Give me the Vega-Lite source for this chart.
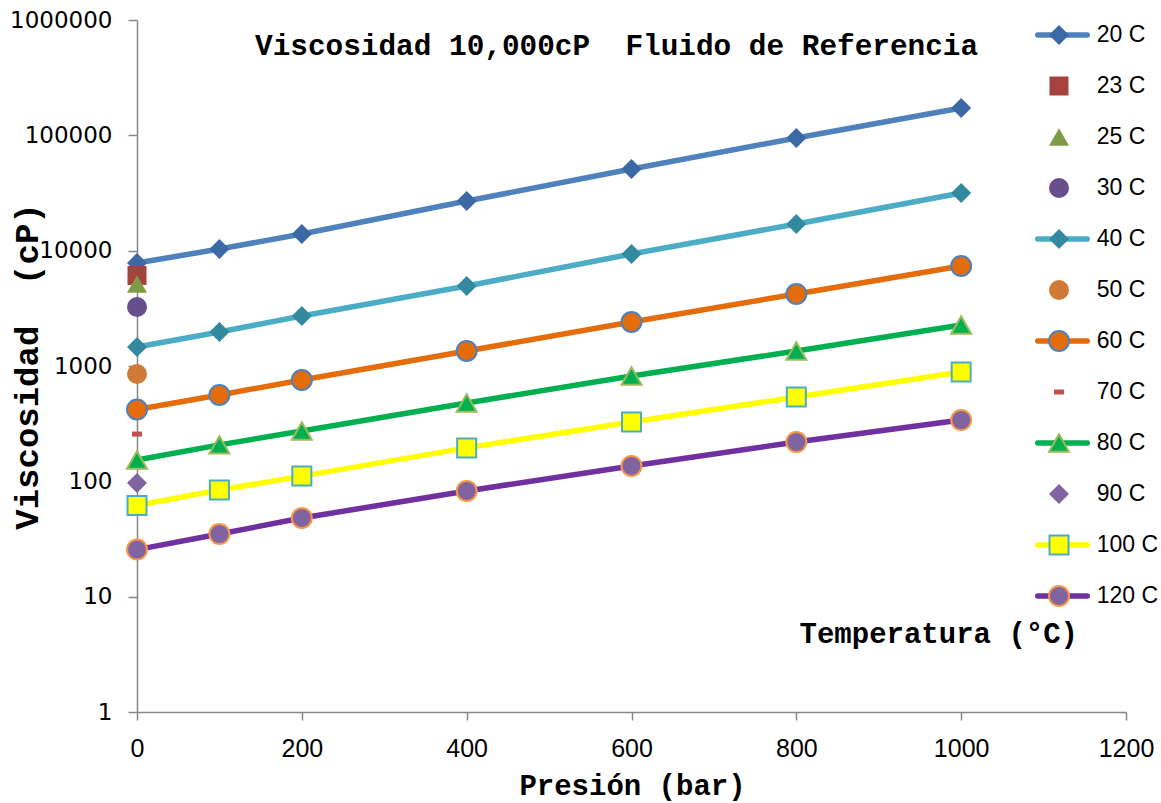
{
  "$schema": "https://vega.github.io/schema/vega-lite/v6.json",
  "width": 989,
  "height": 692,
  "autosize": {"type": "none"},
  "padding": {"left": 137, "top": 20, "right": 35, "bottom": 91},
  "background": "white",
  "title": {
    "text": "Viscosidad 10,000cP\u00a0 Fluido de Referencia",
    "anchor": "start", "frame": "group", "orient": "top", "offset": -75,
    "dx": 118, "baseline": "alphabetic",
    "font": "Liberation Mono", "fontSize": 29.4, "fontWeight": "bold", "color": "black"
  },
  "config": {"view": {"stroke": null}},
  "data": {
    "values": [
      {"t": "20 C", "p": 0, "v": 7820}, {"t": "20 C", "p": 100, "v": 10340}, {"t": "20 C", "p": 200, "v": 13950}, {"t": "20 C", "p": 400, "v": 26960}, {"t": "20 C", "p": 600, "v": 51080}, {"t": "20 C", "p": 800, "v": 94850}, {"t": "20 C", "p": 1000, "v": 172700},
      {"t": "23 C", "p": 0, "v": 6100},
      {"t": "25 C", "p": 0, "v": 5140},
      {"t": "30 C", "p": 0, "v": 3250},
      {"t": "40 C", "p": 0, "v": 1460}, {"t": "40 C", "p": 100, "v": 1972}, {"t": "40 C", "p": 200, "v": 2714}, {"t": "40 C", "p": 400, "v": 4940}, {"t": "40 C", "p": 600, "v": 9360}, {"t": "40 C", "p": 800, "v": 17030}, {"t": "40 C", "p": 1000, "v": 31630},
      {"t": "50 C", "p": 0, "v": 852},
      {"t": "60 C", "p": 0, "v": 420}, {"t": "60 C", "p": 100, "v": 561}, {"t": "60 C", "p": 200, "v": 756}, {"t": "60 C", "p": 400, "v": 1350}, {"t": "60 C", "p": 600, "v": 2407}, {"t": "60 C", "p": 800, "v": 4210}, {"t": "60 C", "p": 1000, "v": 7365},
      {"t": "70 C", "p": 0, "v": 257},
      {"t": "80 C", "p": 0, "v": 153}, {"t": "80 C", "p": 100, "v": 207}, {"t": "80 C", "p": 200, "v": 273}, {"t": "80 C", "p": 400, "v": 478}, {"t": "80 C", "p": 600, "v": 819}, {"t": "80 C", "p": 800, "v": 1350}, {"t": "80 C", "p": 1000, "v": 2268},
      {"t": "90 C", "p": 0, "v": 96.7},
      {"t": "100 C", "p": 0, "v": 61.7}, {"t": "100 C", "p": 100, "v": 84.1}, {"t": "100 C", "p": 200, "v": 111}, {"t": "100 C", "p": 400, "v": 195}, {"t": "100 C", "p": 600, "v": 327}, {"t": "100 C", "p": 800, "v": 539}, {"t": "100 C", "p": 1000, "v": 887},
      {"t": "120 C", "p": 0, "v": 25.6}, {"t": "120 C", "p": 100, "v": 34.9}, {"t": "120 C", "p": 200, "v": 48.1}, {"t": "120 C", "p": 400, "v": 82.5}, {"t": "120 C", "p": 600, "v": 136}, {"t": "120 C", "p": 800, "v": 219}, {"t": "120 C", "p": 1000, "v": 340}
    ]
  },
  "encoding": {
    "x": {
      "field": "p", "type": "quantitative",
      "scale": {"domain": [0, 1200], "nice": false, "zero": false},
      "axis": {
        "values": [0, 200, 400, 600, 800, 1000, 1200], "format": "d", "grid": false,
        "domainColor": "#868686", "tickColor": "#868686", "domainWidth": 1.5, "tickWidth": 1.5, "tickSize": 8,
        "labelFont": "Liberation Sans", "labelFontSize": 25, "labelColor": "black", "labelPadding": 16,
        "labelFlush": false, "labelOverlap": false,
        "title": "Presión (bar)", "titleFont": "Liberation Mono", "titleFontSize": 29, "titleFontWeight": "bold", "titleColor": "black",
        "titleX": 495, "titleY": 82, "titleBaseline": "alphabetic", "titleAlign": "center"
      }
    },
    "y": {
      "field": "v", "type": "quantitative",
      "scale": {"type": "log", "domain": [1, 1000000], "nice": false},
      "axis": {
        "values": [1, 10, 100, 1000, 10000, 100000, 1000000], "format": "d", "grid": false,
        "domainColor": "#868686", "tickColor": "#868686", "domainWidth": 1.5, "tickWidth": 1.5, "tickSize": 9,
        "labelFont": "DejaVu Sans", "labelFontSize": 23, "labelColor": "black", "labelPadding": 16,
        "labelFlush": false, "labelOverlap": false,
        "title": "Viscosidad\u00a0 (cP)", "titleFont": "Liberation Mono", "titleFontSize": 34, "titleFontWeight": "bold", "titleColor": "black",
        "titleX": -100, "titleY": 346, "titleAngle": 270, "titleBaseline": "alphabetic", "titleAlign": "center"
      }
    }
  },
  "layer": [
    {
      "transform": [{"filter": {"field": "t", "oneOf": ["20 C", "40 C", "60 C", "80 C", "100 C", "120 C"]}}],
      "mark": {"type": "line", "strokeWidth": 5.5, "strokeCap": "round", "strokeJoin": "round"},
      "encoding": {
        "stroke": {
          "field": "t", "type": "nominal",
          "scale": {
            "domain": ["20 C", "23 C", "25 C", "30 C", "40 C", "50 C", "60 C", "70 C", "80 C", "90 C", "100 C", "120 C"],
            "range": ["#4F81BD", "transparent", "transparent", "transparent", "#4BACC6", "transparent", "#E46C0A", "transparent", "#00B050", "transparent", "#FFFF00", "#7030A0"]
          },
          "legend": {
            "orient": "none", "legendX": 898, "legendY": -10.5, "title": null,
            "symbolType": "stroke", "symbolSize": 2450, "symbolStrokeWidth": 5.5,
            "clipHeight": 51, "rowPadding": 0, "padding": 0,
            "labelFont": "Liberation Sans", "labelFontSize": 23, "labelOffset": 6.75, "labelColor": "black", "labelLimit": 200,
            "encode": {"symbols": {"update": {"strokeCap": {"value": "round"}}}}
          }
        }
      }
    },
    {
      "mark": {"type": "point", "filled": true, "opacity": 1, "size": 400, "strokeWidth": 2},
      "encoding": {
        "shape": {
          "field": "t", "type": "nominal",
          "scale": {
            "domain": ["20 C", "23 C", "25 C", "30 C", "40 C", "50 C", "60 C", "70 C", "80 C", "90 C", "100 C", "120 C"],
            "range": ["diamond", "M-0.95,-0.95H0.95V0.95H-0.95Z", "triangle-up", "circle", "diamond", "circle", "circle", "M-0.5,-0.25H0.5V0.25H-0.5Z", "triangle-up", "diamond", "M-0.95,-0.95H0.95V0.95H-0.95Z", "circle"]
          },
          "legend": {
            "orient": "none", "legendX": 663, "legendY": -10.5,
            "title": "Temperatura (°C)", "titleOrient": "bottom", "titleAnchor": "end", "titleAlign": "right", "titleBaseline": "alphabetic",
            "titleFont": "Liberation Mono", "titleFontSize": 29, "titleFontWeight": "bold", "titleColor": "black", "titlePadding": 21.5, "titleLimit": 500,
            "symbolSize": 400, "symbolStrokeWidth": 2, "symbolOpacity": 1,
            "clipHeight": 51, "rowPadding": 0, "padding": 0,
            "labelFontSize": 1, "labelOpacity": 0, "labelOffset": 5
          }
        },
        "fill": {
          "field": "t", "type": "nominal",
          "scale": {
            "domain": ["20 C", "23 C", "25 C", "30 C", "40 C", "50 C", "60 C", "70 C", "80 C", "90 C", "100 C", "120 C"],
            "range": ["#3C69A6", "#A5423E", "#7E9B45", "#674F8E", "#338A9E", "#CF7A37", "#E46C0A", "#C0504D", "#00B050", "#8064A2", "#FFFF00", "#8064A2"]
          },
          "legend": {
            "orient": "none", "legendX": 663, "legendY": -10.5,
            "title": "Temperatura (°C)", "titleOrient": "bottom", "titleAnchor": "end", "titleAlign": "right", "titleBaseline": "alphabetic",
            "titleFont": "Liberation Mono", "titleFontSize": 29, "titleFontWeight": "bold", "titleColor": "black", "titlePadding": 21.5, "titleLimit": 500,
            "symbolSize": 400, "symbolStrokeWidth": 2, "symbolOpacity": 1,
            "clipHeight": 51, "rowPadding": 0, "padding": 0,
            "labelFontSize": 1, "labelOpacity": 0, "labelOffset": 5
          }
        },
        "stroke": {
          "field": "t", "type": "nominal",
          "scale": {
            "domain": ["20 C", "23 C", "25 C", "30 C", "40 C", "50 C", "60 C", "70 C", "80 C", "90 C", "100 C", "120 C"],
            "range": ["transparent", "transparent", "transparent", "transparent", "transparent", "transparent", "#4F81BD", "transparent", "#9BBB59", "transparent", "#4BACC6", "#F79646"]
          },
          "legend": {
            "orient": "none", "legendX": 663, "legendY": -10.5,
            "title": "Temperatura (°C)", "titleOrient": "bottom", "titleAnchor": "end", "titleAlign": "right", "titleBaseline": "alphabetic",
            "titleFont": "Liberation Mono", "titleFontSize": 29, "titleFontWeight": "bold", "titleColor": "black", "titlePadding": 21.5, "titleLimit": 500,
            "symbolSize": 400, "symbolStrokeWidth": 2, "symbolOpacity": 1,
            "clipHeight": 51, "rowPadding": 0, "padding": 0,
            "labelFontSize": 1, "labelOpacity": 0, "labelOffset": 5
          }
        }
      }
    }
  ],
  "resolve": {
    "scale": {"stroke": "independent", "fill": "independent", "shape": "independent"},
    "legend": {"stroke": "independent", "fill": "independent", "shape": "independent"}
  }
}
